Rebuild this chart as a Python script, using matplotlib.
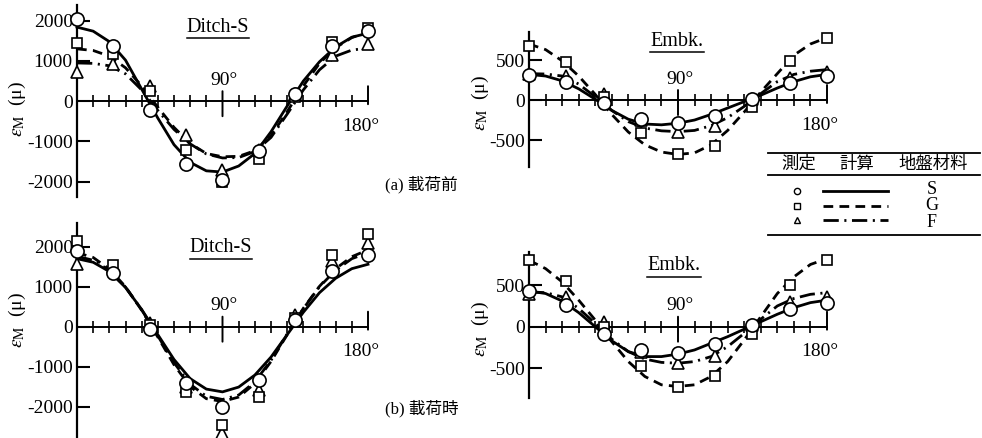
import matplotlib
matplotlib.use("Agg")
import matplotlib.pyplot as plt
from matplotlib.lines import Line2D

plt.rcParams.update({"font.family": ["Liberation Serif", "Noto Sans CJK JP"],
                     "mathtext.fontset": "stix", "lines.scale_dashes": False,
                     "axes.unicode_minus": False, "font.size": 14})

W, H = 982, 438

# angles (deg)
ang_meas = [0, 22.5, 45, 67.5, 90, 112.5, 135, 157.5, 180]
ang_calc = [0, 10, 20, 30, 40, 50, 60, 70, 80, 90, 100, 110, 120, 130, 140, 150, 160, 170, 180]

# (a) before loading, Ditch-S
da_meas_S = [2030, 1360, -210, -1570, -1970, -1230, 170, 1380, 1740]
da_meas_G = [1440, 1180, 250, -1200, -2010, -1430, 100, 1470, 1820]
da_meas_F = [720, 930, 390, -850, -1710, -1200, 180, 1140, 1420]
da_calc_S = [1840, 1740, 1480, 1020, 300, -420, -1080, -1520, -1730, -1760, -1610, -1300, -760, -120, 500, 980, 1350, 1590, 1690]
da_calc_G = [1300, 1260, 1120, 830, 380, -150, -650, -1050, -1300, -1380, -1370, -1230, -860, -260, 380, 940, 1330, 1580, 1720]
da_calc_F = [950, 940, 880, 680, 280, -230, -700, -1060, -1310, -1410, -1400, -1250, -900, -320, 280, 780, 1120, 1270, 1320]

# (a) before loading, Embk.
ea_meas_S = [310, 230, -40, -240, -290, -200, 10, 210, 300]
ea_meas_G = [670, 480, 40, -410, -675, -575, -90, 490, 780]
ea_meas_F = [330, 300, 80, -250, -395, -330, 10, 280, 355]
ea_calc_S = [320, 300, 240, 140, 10, -130, -240, -300, -310, -290, -250, -180, -100, -20, 60, 150, 230, 290, 320]
ea_calc_G = [700, 630, 490, 300, 70, -180, -400, -560, -650, -680, -660, -560, -380, -150, 100, 330, 560, 700, 780]
ea_calc_F = [330, 325, 300, 200, 40, -130, -270, -350, -385, -395, -380, -320, -220, -80, 80, 230, 320, 360, 380]

# (b) during loading, Ditch-S
db_meas_S = [1900, 1330, -70, -1420, -2000, -1330, 170, 1380, 1790]
db_meas_G = [2130, 1540, 40, -1630, -2460, -1750, 210, 1790, 2320]
db_meas_F = [1570, 1480, 80, -1500, -2670, -1580, 290, 1630, 2080]
db_calc_S = [1700, 1610, 1380, 980, 430, -200, -820, -1300, -1560, -1630, -1510, -1210, -760, -200, 360, 850, 1210, 1450, 1560]
db_calc_G = [1850, 1730, 1440, 1000, 410, -260, -950, -1500, -1800, -1870, -1760, -1420, -870, -200, 460, 1010, 1450, 1750, 1920]
db_calc_F = [1760, 1660, 1410, 990, 420, -230, -900, -1440, -1740, -1820, -1710, -1380, -840, -180, 450, 1000, 1410, 1700, 1850]

# (b) during loading, Embk.
eb_meas_S = [435, 260, -90, -275, -320, -210, 20, 210, 290]
eb_meas_G = [800, 545, 0, -475, -725, -595, -90, 505, 800]
eb_meas_F = [400, 355, 60, -300, -435, -355, 20, 300, 355]
eb_calc_S = [430, 400, 310, 170, 0, -170, -300, -360, -360, -330, -280, -200, -120, -30, 60, 150, 230, 290, 320]
eb_calc_G = [800, 700, 540, 320, 80, -180, -420, -600, -700, -720, -700, -600, -420, -160, 120, 400, 600, 750, 820]
eb_calc_F = [420, 410, 360, 220, 40, -150, -300, -390, -430, -440, -420, -360, -240, -80, 90, 250, 340, 390, 410]

DASH = (0, (7, 4.5))
DASHDOT = (0, (11, 4, 1.5, 4))

fig = plt.figure(figsize=(W / 100, H / 100), dpi=100)

def fx(px): return px / W
def fy(py): return 1 - py / H

def panel(x0, x1, ytop, ybot, ylim, yticks, meas, calc, title, tpos, ylab_pos):
    ax = fig.add_axes([fx(x0), fy(ybot), fx(x1 - x0), (ybot - ytop) / H])
    ax.set_facecolor("none")
    ax.set_xlim(0, 180); ax.set_ylim(*ylim)
    for s in ("top", "right"):
        ax.spines[s].set_visible(False)
    ax.spines["bottom"].set_position(("data", 0))
    ax.spines["left"].set_linewidth(1.6)
    ax.spines["bottom"].set_linewidth(1.4)
    ax.set_xticks([10, 20, 30, 40, 50, 60, 70, 80, 100, 110, 120, 130, 140, 150, 160, 170])
    ax.tick_params(axis="x", direction="inout", length=8, width=1.2, labelbottom=False)
    ax.set_yticks(yticks)
    ax.tick_params(axis="y", direction="in", length=9, width=1.5, labelsize=14, pad=3)
    for x, up, dn in ((90, 10, 15), (180, 15, 3)):
        ax.annotate("", xy=(x, 0), xytext=(0, up), textcoords="offset pixels",
                    arrowprops=dict(arrowstyle="-", lw=1.4, shrinkA=0, shrinkB=0))
        ax.annotate("", xy=(x, 0), xytext=(0, -dn), textcoords="offset pixels",
                    arrowprops=dict(arrowstyle="-", lw=1.4, shrinkA=0, shrinkB=0))
    ax.annotate("90°", xy=(90, 0), xytext=(2, 21), textcoords="offset pixels",
                ha="center", va="center", fontsize=14)
    ax.annotate("180°", xy=(180, 0), xytext=(-7, -25), textcoords="offset pixels",
                ha="center", va="center", fontsize=14)
    cs, cg, cf = calc
    ax.plot(ang_calc, cs, color="k", lw=2.0, ls="-", clip_on=False)
    ax.plot(ang_calc, cg, color="k", lw=2.0, ls=DASH, clip_on=False)
    ax.plot(ang_calc, cf, color="k", lw=2.0, ls=DASHDOT, clip_on=False)
    ms, mg, mf = meas
    kw = dict(ls="none", mfc="white", mec="k", mew=1.2, clip_on=False, zorder=5)
    ax.plot(ang_meas, mf, marker="^", ms=8, **kw)
    ax.plot(ang_meas, mg, marker="s", ms=7.5, **kw)
    ax.plot(ang_meas, ms, marker="o", ms=9.5, **kw)
    t = fig.text(fx(tpos[0]), fy(tpos[1]), title, ha="center", va="center", fontsize=14.5)
    fig.text(fx(ylab_pos[0]), fy(ylab_pos[1]), r"$\varepsilon_{\rm M}$  (μ)", rotation=90,
             ha="center", va="center", fontsize=14)
    return t

titles = []
titles.append(panel(77, 368, 5, 197, (-2380, 2390), [-2000, -1000, 0, 1000, 2000],
                    (da_meas_S, da_meas_G, da_meas_F), (da_calc_S, da_calc_G, da_calc_F),
                    "Ditch-S", (218, 27), (17, 109)))
titles.append(panel(529, 827, 32, 167, (-837, 850), [-500, 0, 500],
                    (ea_meas_S, ea_meas_G, ea_meas_F), (ea_calc_S, ea_calc_G, ea_calc_F),
                    "Embk.", (677, 41), (480, 103)))
titles.append(panel(77, 368, 223, 438, (-2783, 2592), [-2000, -1000, 0, 1000, 2000],
                    (db_meas_S, db_meas_G, db_meas_F), (db_calc_S, db_calc_G, db_calc_F),
                    "Ditch-S", (221, 248), (17, 320)))
titles.append(panel(529, 827, 252, 398, (-859, 900), [-500, 0, 500],
                    (eb_meas_S, eb_meas_G, eb_meas_F), (eb_calc_S, eb_calc_G, eb_calc_F),
                    "Embk.", (674, 266), (480, 329)))

fig.text(fx(385), fy(185), "(a) 載荷前", ha="left", va="center", fontsize=12)
fig.text(fx(385), fy(409), "(b) 載荷時", ha="left", va="center", fontsize=12)

# legend table
def hline(x0, x1, y, lw=1.3, ls="-"):
    fig.add_artist(Line2D([fx(x0), fx(x1)], [fy(y), fy(y)], color="k", lw=lw, ls=ls))

hline(768, 980, 153)
hline(768, 980, 175)
hline(768, 980, 235)
for txt, x in (("測定", 799), ("計算", 857), ("地盤材料", 933)):
    fig.text(fx(x), fy(164), txt, ha="center", va="center", fontsize=12.5,
             family=["Noto Sans CJK JP"])
leg_rows = [("o", "-", 191), ("s", DASH, 206), ("^", DASHDOT, 220)]
for mk, ls, y in leg_rows:
    fig.add_artist(Line2D([fx(797)], [fy(y)], marker=mk, ms=4.5, mfc="white", mec="k",
                          mew=1.0, ls="none"))
    hline(823, 888, y, lw=2.0, ls=ls)
fig.text(fx(932), fy(206), "S\nG\nF", ha="center", va="center", fontsize=13,
         linespacing=0.95)

# underline titles
fig.canvas.draw()
r = fig.canvas.get_renderer()
for t in titles:
    bb = t.get_window_extent(r)
    fig.add_artist(Line2D([bb.x0 / W, bb.x1 / W], [(bb.y0 - 1) / H, (bb.y0 - 1) / H],
                          color="k", lw=1.1))

fig.savefig("out.png", dpi=100)
